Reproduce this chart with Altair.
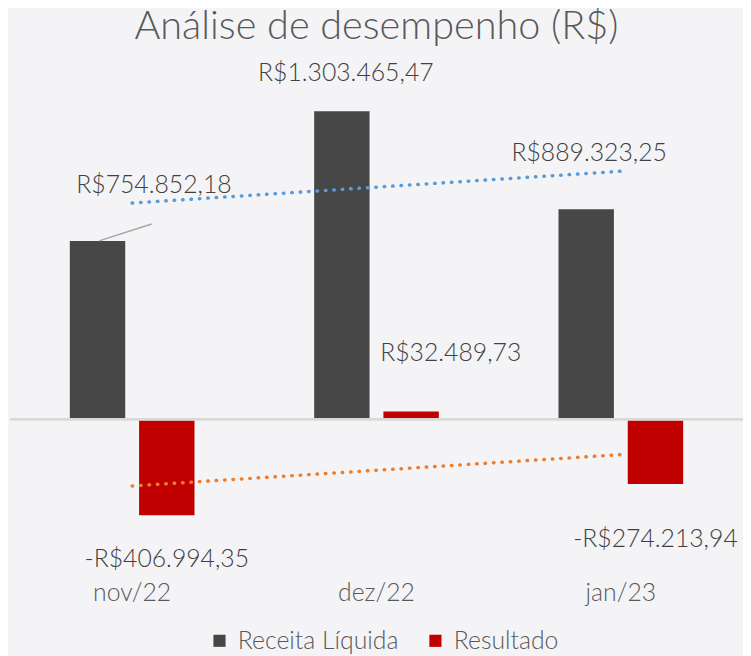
import json
import altair as alt
import pandas as pd

months = ["nov/22", "dez/22", "jan/23"]
series = ["Receita Líquida", "Resultado"]
receita = [754852.18, 1303465.47, 889323.25]
resultado = [-406994.35, 32489.73, -274213.94]

# label offsets (dx, dy) in pixels, per (serie, month)
label_offsets = {
    ("Receita Líquida", "nov/22"): (57, -56),
    ("Receita Líquida", "dez/22"): (4, -39),
    ("Receita Líquida", "jan/23"): (3, -57),
    ("Resultado", "nov/22"): (0, 44),
    ("Resultado", "dez/22"): (40, -59),
    ("Resultado", "jan/23"): (0, 56),
}


def brl(v):
    s = f"{abs(v):,.2f}".replace(",", "X").replace(".", ",").replace("X", ".")
    return ("-" if v < 0 else "") + "R$" + s


rows = []
for i, m in enumerate(months):
    rows.append({"month": m, "idx": i + 1, "serie": series[0], "value": receita[i], "label": brl(receita[i])})
    rows.append({"month": m, "idx": i + 1, "serie": series[1], "value": resultado[i], "label": brl(resultado[i])})
df = pd.DataFrame(rows)

FONT = "Lato"
WEIGHT = 300
GREY = "#595959"
FS = 25

x = alt.X(
    "month:N",
    sort=months,
    title=None,
    scale=alt.Scale(paddingInner=0, paddingOuter=0),
    axis=alt.Axis(
        labelAngle=0, domain=False, ticks=False, grid=False,
        labelFontSize=FS, labelFont=FONT, labelFontWeight=WEIGHT, labelColor=GREY, labelPadding=8,
    ),
)
xoff = alt.XOffset("serie:N", sort=series, scale=alt.Scale(paddingInner=0.2, paddingOuter=0.864))
y = alt.Y("value:Q", scale=alt.Scale(domain=[-650000, 1510000], nice=False, zero=False), axis=None)
color = alt.Color(
    "serie:N",
    sort=series,
    scale=alt.Scale(domain=series, range=["#474747", "#c00000"]),
    legend=alt.Legend(
        title=None, orient="none", legendX=199, legendY=571, direction="horizontal",
        symbolType="square", symbolSize=150, symbolStrokeWidth=0,
        labelFontSize=FS, labelFont=FONT, labelFontWeight=WEIGHT, labelColor=GREY,
        labelOffset=6, columnPadding=24, labelLimit=400,
    ),
)

base = alt.Chart(df)
bars = base.mark_bar().encode(x=x, xOffset=xoff, y=y, color=color)
zero = base.mark_rule(color="#d9d9d9", strokeWidth=2).encode(y=alt.datum(0))

trend = base.transform_regression("idx", "value", groupby=["serie"]).transform_calculate(
    month=f"{json.dumps(months)}[round(datum.idx) - 1]"
)
blue = trend.transform_filter(alt.datum.serie == series[0]).mark_line(
    color="#5b9bd5", strokeWidth=3.5, strokeDash=[0.5, 8], strokeCap="round"
).encode(x=alt.X("month:N", sort=months), y="value:Q")
orange = trend.transform_filter(alt.datum.serie == series[1]).mark_line(
    color="#ed7d31", strokeWidth=3.5, strokeDash=[0.5, 8], strokeCap="round"
).encode(x=alt.X("month:N", sort=months), y="value:Q")

leader = base.transform_filter(
    (alt.datum.serie == series[0]) & (alt.datum.month == months[0])
).mark_rule(color="#a6a6a6", strokeWidth=1.5).encode(
    x=alt.value(90), x2=alt.value(143), y=alt.value(180), y2=alt.value(163)
)

labels = []
for (s, m), (dx, dy) in label_offsets.items():
    labels.append(
        base.transform_filter((alt.datum.serie == s) & (alt.datum.month == m))
        .mark_text(dx=dx, dy=dy, fontSize=FS, font=FONT, fontWeight=WEIGHT, color="#404040",
                   align="center", baseline="middle")
        .encode(x=alt.X("month:N", sort=months), xOffset=xoff, y="value:Q", text="label:N")
    )

chart = alt.layer(bars, zero, blue, orange, leader, *labels).properties(
    width=740,
    height=515,
    background="#f4f4f6",
    padding={"left": 2, "top": 52, "right": 0, "bottom": 81},
    autosize=alt.AutoSizeParams(type="none"),
    title=alt.TitleParams(
        "Análise de desempenho (R$)", fontSize=40, font=FONT, fontWeight=WEIGHT,
        color=GREY, anchor="middle", baseline="alphabetic", offset=-18,
    ),
).configure_view(stroke=None)

chart.save("out.html", embed_options={"renderer": "svg", "actions": False})
